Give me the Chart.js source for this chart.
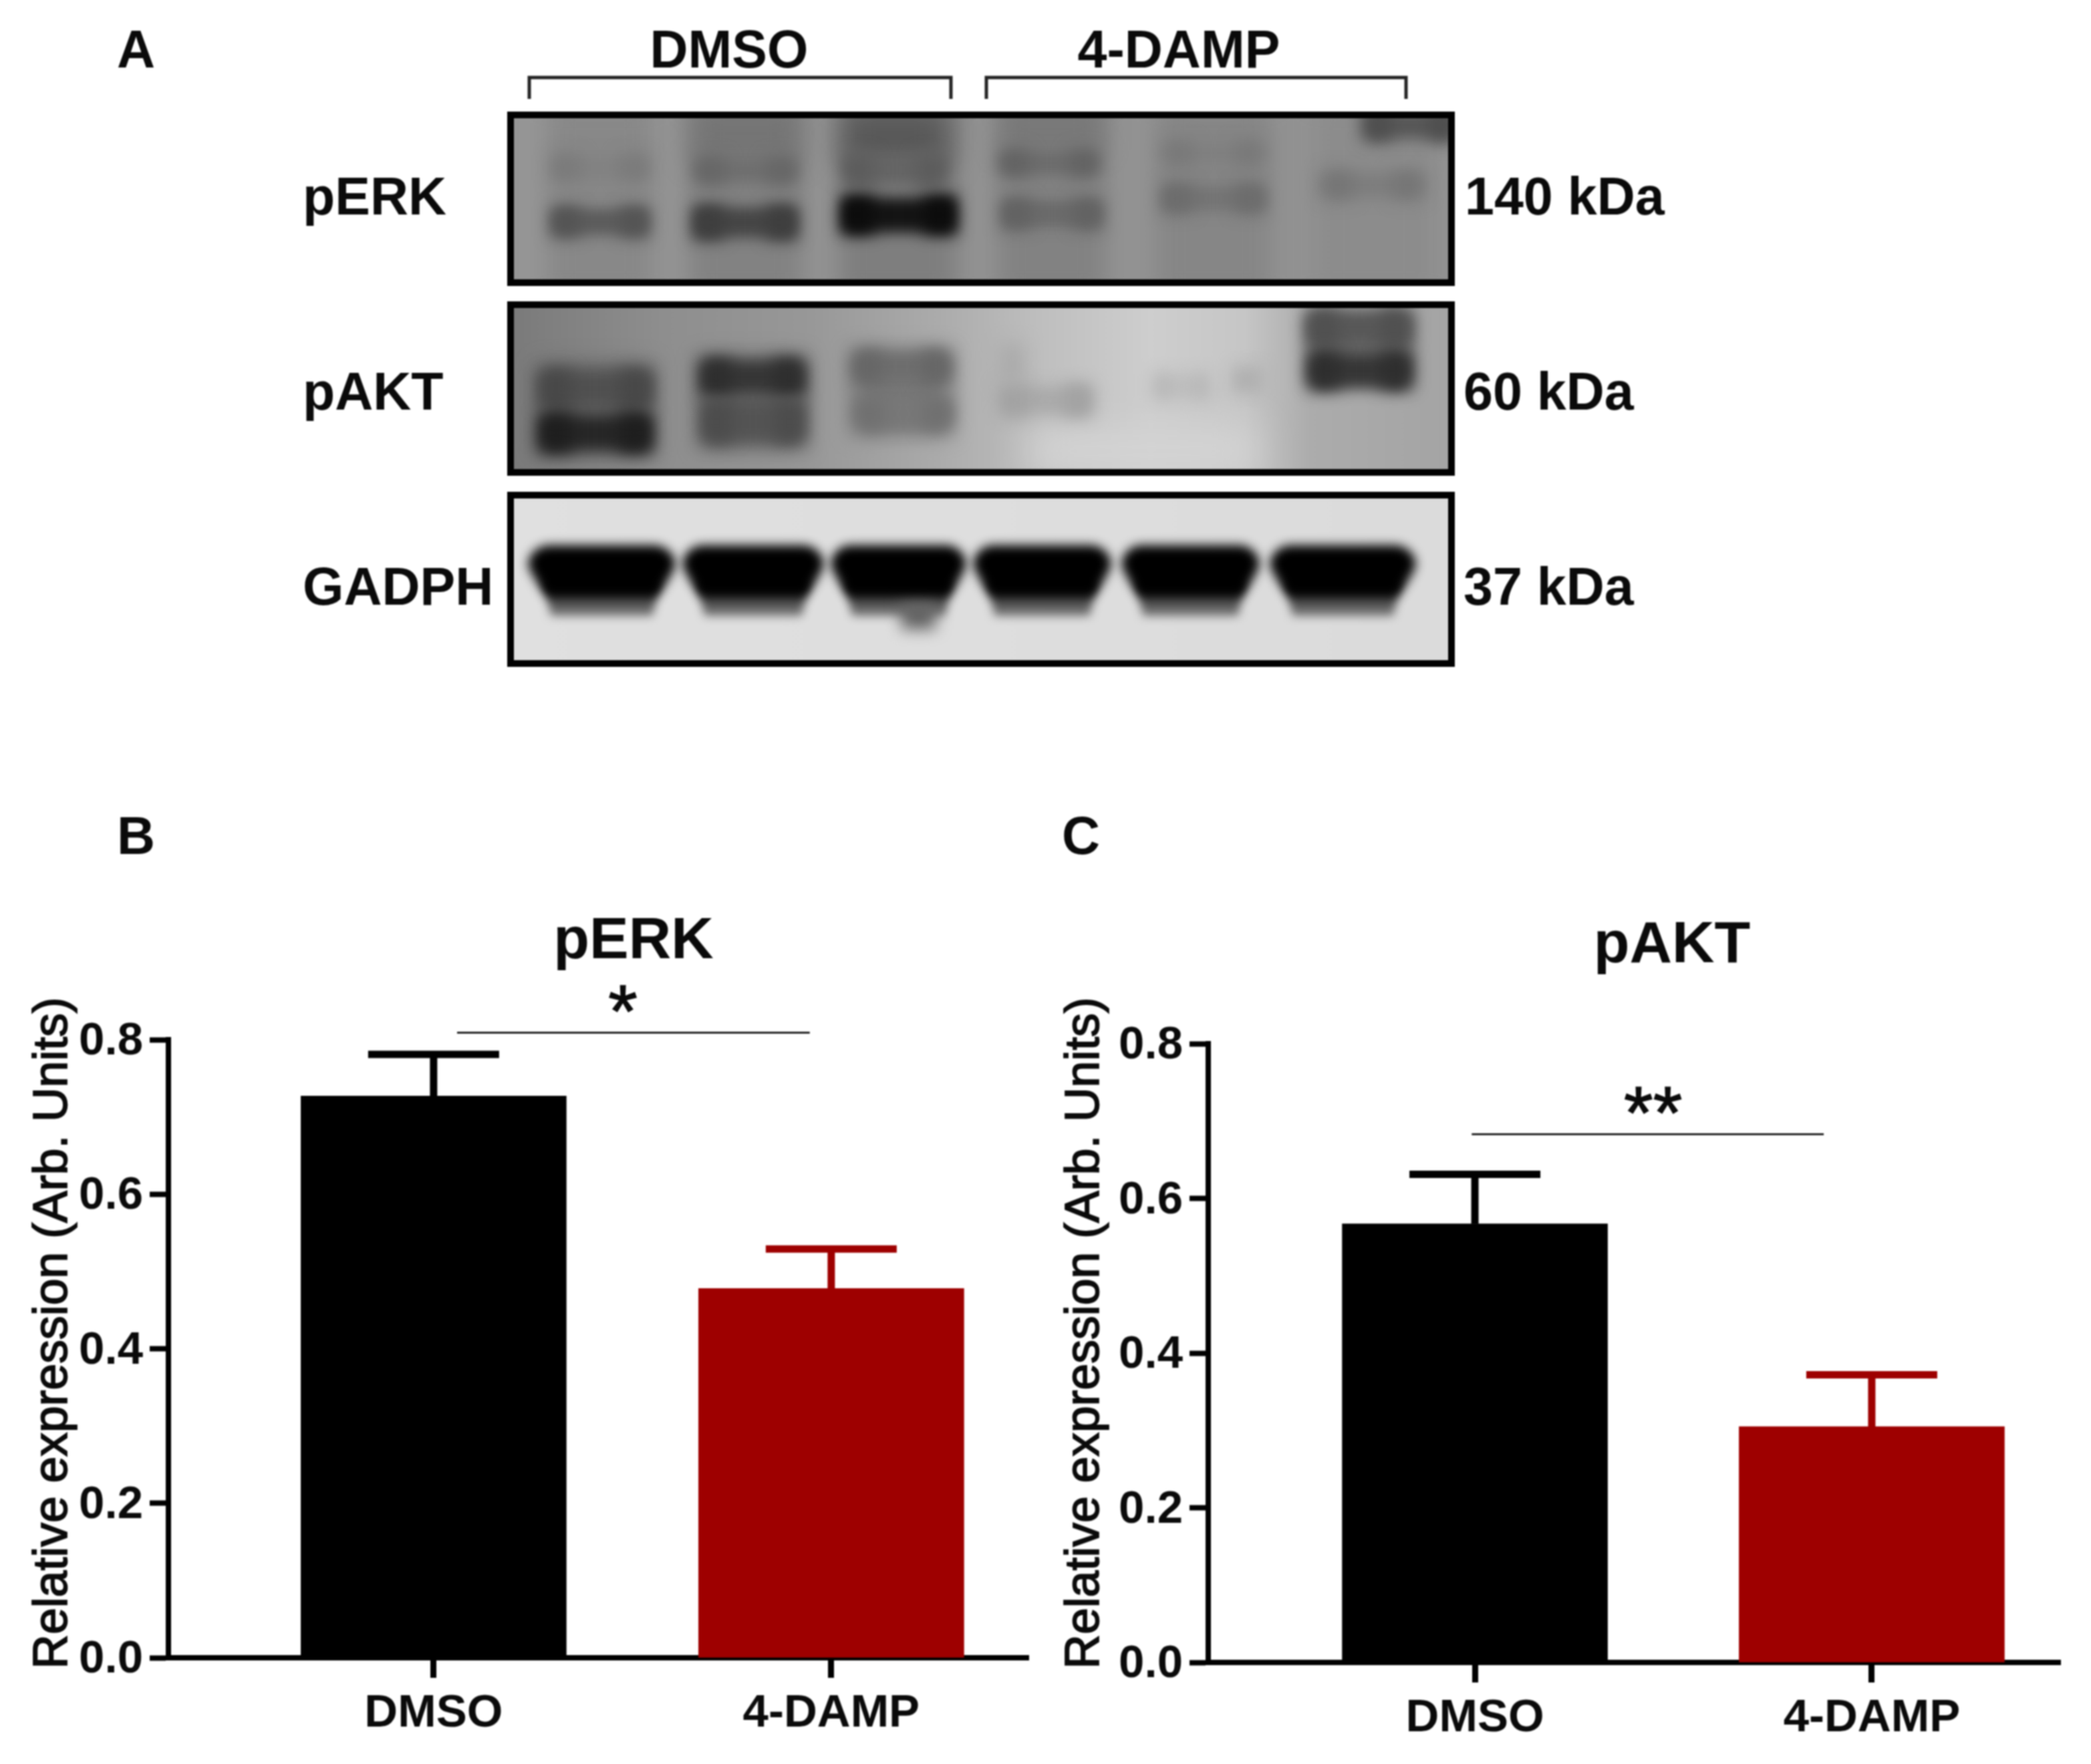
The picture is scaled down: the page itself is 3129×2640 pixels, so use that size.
<!DOCTYPE html>
<html>
<head>
<meta charset="utf-8">
<title>pERK / pAKT</title>
<script src="https://cdn.jsdelivr.net/npm/chart.js@4"></script>
<style>
html,body{margin:0;background:#fff}
#fig{position:relative;width:3129px;height:2640px;overflow:hidden;font-family:"Liberation Sans",Arial,sans-serif;color:#0a0a0a}
#fig canvas{position:absolute;filter:blur(1.1px)}
.lbl{position:absolute;font-weight:bold;font-size:79px;line-height:100px;height:100px;white-space:nowrap;filter:blur(1.1px)}
.ctr{transform:translateX(-50%)}
</style>
</head>
<body>
<div id="fig">
  <canvas id="blots" width="3129" height="1100" style="left:0;top:0"></canvas>
  <div class="lbl" style="left:175px;top:24px">A</div>
  <div class="lbl" style="left:175px;top:1201px">B</div>
  <div class="lbl" style="left:1589px;top:1201px">C</div>
  <div class="lbl ctr" style="left:1091px;top:24px">DMSO</div>
  <div class="lbl ctr" style="left:1764px;top:24px">4-DAMP</div>
  <div class="lbl" style="left:453px;top:244px">pERK</div>
  <div class="lbl" style="left:453px;top:536px">pAKT</div>
  <div class="lbl" style="left:453px;top:828px">GADPH</div>
  <div class="lbl" style="left:2192px;top:244px">140 kDa</div>
  <div class="lbl" style="left:2190px;top:536px">60 kDa</div>
  <div class="lbl" style="left:2190px;top:828px">37 kDa</div>
  <canvas id="chartB" width="1560" height="1440" style="left:0;top:1200px"></canvas>
  <canvas id="chartC" width="1569" height="1440" style="left:1560px;top:1200px"></canvas>
</div>
<script>
/* ── data ── */
const categories=['DMSO','4-DAMP'];
const yTicks=[0,0.2,0.4,0.6,0.8];
const barColors=['#000000','#9e0000'];
const perkMeans=[0.727,0.478];
const perkErrors=[0.054,0.051];
const perkSigSpan=[0.059,0.946];
const perkSigLevel=0.809;
const aktMeans=[0.567,0.305];
const aktErrors=[0.064,0.067];
const aktSigSpan=[-0.008,0.879];
const aktSigLevel=0.683;

const FONT='"Liberation Sans",Arial,sans-serif';
const INK='#0a0a0a';

/* error bars and significance line go through the chart scales */
const errorBars={
  id:'errorBars',
  afterDatasetsDraw(chart,_,o){
    const {ctx,scales:{x,y}}=chart;
    ctx.save();
    ctx.lineWidth=11;
    o.means.forEach((m,i)=>{
      const px=x.getPixelForValue(i),top=y.getPixelForValue(m+o.errors[i]);
      ctx.strokeStyle=barColors[i];
      ctx.beginPath();
      ctx.moveTo(px,y.getPixelForValue(m));ctx.lineTo(px,top);
      ctx.moveTo(px-98,top);ctx.lineTo(px+98,top);
      ctx.stroke();
    });
    const ly=y.getPixelForValue(o.sigLevel);
    ctx.strokeStyle='#222';ctx.lineWidth=3;
    ctx.beginPath();
    ctx.moveTo(x.getPixelForValue(o.sigSpan[0]),ly);
    ctx.lineTo(x.getPixelForValue(o.sigSpan[1]),ly);
    ctx.stroke();
    ctx.fillStyle=INK;
    ctx.font=`112px ${FONT}`;
    ctx.textAlign='center';ctx.textBaseline='alphabetic';
    ctx.lineWidth=1.5;ctx.strokeStyle=INK;
    const sx=x.getPixelForValue(o.starX);
    ctx.fillText(o.stars,sx,ly+o.starDrop);
    ctx.strokeText(o.stars,sx,ly+o.starDrop);
    ctx.restore();
  }
};

/* panel title and y label sit off-centre from the plot area */
const panelText={
  id:'panelText',
  afterDraw(chart,_,o){
    const {ctx}=chart;
    ctx.save();
    ctx.fillStyle=INK;ctx.textAlign='center';ctx.textBaseline='middle';
    ctx.font=`bold 88px ${FONT}`;
    ctx.fillText(o.title,o.titleX,o.titleY);
    ctx.translate(o.yLabelX,o.yLabelY);ctx.rotate(-Math.PI/2);
    ctx.font=`71.5px ${FONT}`;
    ctx.strokeStyle=INK;ctx.lineWidth=1.8;
    ctx.fillText('Relative expression (Arb. Units)',0,0);
    ctx.strokeText('Relative expression (Arb. Units)',0,0);
    ctx.restore();
  }
};

function barPanel(id,means,errors,cfg){
  return new Chart(document.getElementById(id),{
    type:'bar',
    data:{datasets:[{
      data:means.map((v,i)=>({x:i,y:v})),
      backgroundColor:barColors,
      borderWidth:0,
      barThickness:397
    }]},
    plugins:[errorBars,panelText],
    options:{
      responsive:false,
      animation:false,
      devicePixelRatio:1,
      layout:{padding:{top:cfg.top,right:cfg.right,left:0,bottom:0}},
      plugins:{
        legend:{display:false},
        tooltip:{enabled:false},
        errorBars:{means,errors,sigSpan:cfg.sigSpan,sigLevel:cfg.sigLevel,stars:cfg.stars,starX:cfg.starX,starDrop:cfg.starDrop},
        panelText:{title:cfg.title,titleX:cfg.titleX,titleY:cfg.titleY,yLabelX:cfg.yLabelX,yLabelY:795}
      },
      scales:{
        x:{
          type:'linear',
          offset:false,
          min:cfg.xMin,max:cfg.xMax,
          afterBuildTicks:s=>{s.ticks=categories.map((_,i)=>({value:i}));},
          afterFit:s=>{s.height=cfg.xHeight;},
          grid:{offset:false,drawOnChartArea:false,tickLength:30,tickWidth:9,tickColor:'#000'},
          border:{color:'#000',width:8},
          ticks:{
            callback:v=>categories[v],
            autoSkip:false,maxRotation:0,
            color:INK,padding:13,
            font:{family:FONT,size:69,weight:'bold'}
          }
        },
        y:{
          min:0,max:0.8,
          afterBuildTicks:s=>{s.ticks=yTicks.map(v=>({value:v}));},
          afterFit:s=>{s.width=cfg.yWidth;},
          grid:{drawOnChartArea:false,tickLength:28,tickWidth:8,tickColor:'#000'},
          border:{color:'#000',width:8},
          ticks:{
            callback:v=>v.toFixed(1),
            color:INK,padding:10,labelOffset:3,
            font:{family:FONT,size:69,weight:'bold'}
          }
        }
      }
    }
  });
}

barPanel('chartB',perkMeans,perkErrors,{
  top:356,right:21,xHeight:159,yWidth:252,
  xMin:-0.667,xMax:1.496,
  sigSpan:perkSigSpan,sigLevel:perkSigLevel,stars:'*',starX:0.476,starDrop:6,
  title:'pERK',titleX:948,titleY:210,yLabelX:80
});
barPanel('chartC',aktMeans,aktErrors,{
  top:362,right:46,xHeight:152,yWidth:248,
  xMin:-0.672,xMax:1.475,
  sigSpan:aktSigSpan,sigLevel:aktSigLevel,stars:'**',starX:0.449,starDrop:7,
  title:'pAKT',titleX:942,titleY:216,yLabelX:64
});

/* ── panel A: the blot photographs, painted on a plain canvas ── */
const bx=document.getElementById('blots').getContext('2d');
const gray=v=>`rgb(${v},${v},${v})`;

function smear(x0,x1,y0,y1,v,blur){
  bx.filter=`blur(${blur}px)`;
  bx.fillStyle=gray(v);
  bx.fillRect(x0,y0,x1-x0,y1-y0);
  bx.filter='none';
}
// one protein band: a soft bar with slightly darker ends
function band(a,b,t,u,v,blur=11){
  const w=Math.min(50,(b-a)*0.3);
  smear(a+4,b-4,t,u,v+8,blur);
  smear(a,a+w,t-2,u+2,v,blur+2);
  smear(b-w,b,t-2,u+2,v,blur+2);
}
function membrane(top,bottom,stops,paint){
  bx.save();
  bx.beginPath();bx.rect(764,top,1408,bottom-top);bx.clip();
  const g=bx.createLinearGradient(764,0,2172,0);
  stops.forEach(([p,v])=>g.addColorStop(p,gray(v)));
  bx.fillStyle=g;bx.fillRect(764,top,1408,bottom-top);
  paint();
  bx.restore();
  bx.strokeStyle='#000';bx.lineWidth=10;
  bx.strokeRect(764,top,1408,bottom-top);
}

// pERK
membrane(172,423,[[0,150],[1,146]],()=>{
  [[818,978,136],[1030,1202,130],[1254,1434,126],[1492,1655,130],[1730,1902,134],[1968,2144,140]]
    .forEach(([a,b,v])=>smear(a,b,150,450,v,18));
  smear(1036,1196,160,240,116,20);
  smear(1259,1420,160,245,88,22);
  smear(1498,1649,160,225,120,18);
  [[826,970,234,268,122],[1040,1192,238,272,102],[1262,1416,234,274,92],[1496,1644,228,260,98],[1742,1890,214,244,120],[2040,2180,166,208,78]]
    .forEach(([a,b,t,u,v])=>band(a,b,t,u,v,11));
  band(1978,2130,260,294,116,12);
  [[824,972,312,352,84],[1036,1194,310,356,62],[1258,1432,296,348,12],[1498,1650,300,340,98],[1738,1894,278,316,108]]
    .forEach(([a,b,t,u,v])=>band(a,b,t,u,v,10));
});

// pAKT
membrane(456,707,[[0,122],[0.16,142],[0.32,152],[0.46,172],[0.56,190],[0.68,206],[0.78,198],[0.85,172],[1,164]],()=>{
  smear(806,976,545,680,100,16);
  smear(1048,1204,535,670,100,16);
  smear(1276,1422,525,650,120,16);
  smear(1540,1880,640,710,212,28);
  smear(1956,2112,470,575,108,12);
  [[806,976,556,606,72],[806,976,622,674,30],[1048,1204,540,588,46],[1050,1204,602,660,76],[1276,1422,528,570,102],[1280,1424,598,640,112],
   [1496,1634,578,620,162],[1728,1808,562,594,182],[1847,1886,552,584,170],
   [1956,2112,466,513,80],[1958,2112,530,580,46]]
    .forEach(([a,b,t,u,v])=>band(a,b,t,u,v,11));
  smear(1496,1532,515,575,170,14);
});

// GADPH
membrane(741,993,[[0,224],[0.5,222],[1,219]],()=>{
  [[792,1009],[1023,1231],[1245,1444],[1458,1661],[1680,1883],[1902,2117]].forEach(([a,b],i)=>{
    const w=b-a;
    // grey smear trailing under the band
    const tail=bx.createLinearGradient(0,870,0,924);
    tail.addColorStop(0,gray(10));tail.addColorStop(1,gray(130));
    bx.filter='blur(7px)';
    bx.fillStyle=tail;
    bx.beginPath();
    bx.moveTo(a+w*0.09,868);bx.lineTo(b-w*0.09,868);bx.lineTo(b-w*0.15,922);bx.lineTo(a+w*0.15,922);
    bx.closePath();bx.fill();
    if(i===2){bx.filter='blur(11px)';bx.fillStyle=gray(100);bx.fillRect(a+w*0.52,896,w*0.26,46);}
    bx.filter='blur(8px)';
    bx.fillStyle='#000';
    bx.beginPath();
    bx.moveTo(a+w*0.12,816);
    bx.lineTo(b-w*0.12,816);
    bx.quadraticCurveTo(b,822,b+2,846);
    bx.quadraticCurveTo(b-6,866,b-w*0.12,892);
    bx.lineTo(a+w*0.12,892);
    bx.quadraticCurveTo(a+6,866,a-2,846);
    bx.quadraticCurveTo(a,822,a+w*0.12,816);
    bx.closePath();bx.fill();
    bx.filter='none';
  });
});

// group brackets
bx.strokeStyle='#222';bx.lineWidth=5;
[[792,1423],[1476,2104]].forEach(([a,b])=>{
  bx.beginPath();bx.moveTo(a,148);bx.lineTo(a,116);bx.lineTo(b,116);bx.lineTo(b,148);bx.stroke();
});
</script>
</body>
</html>
